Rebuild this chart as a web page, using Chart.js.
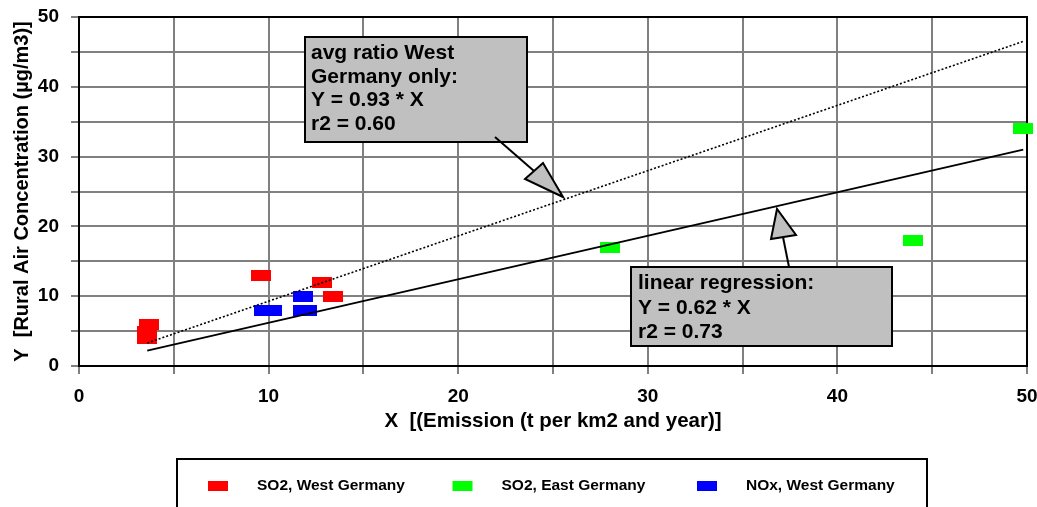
<!DOCTYPE html>
<html>
<head>
<meta charset="utf-8">
<script src="https://cdn.jsdelivr.net/npm/chart.js@4.4.1/dist/chart.umd.min.js"></script>
<style>
  html, body { margin: 0; padding: 0; background: #fff; }
  #wrap { width: 1037px; height: 507px; }
</style>
</head>
<body>
<div id="wrap"><canvas id="chart" width="1037" height="507"></canvas></div>
<script>
// SO2, West Germany
const so2WestX = [3.7, 3.6, 3.6, 9.6, 12.8, 13.4];
const so2WestY = [6, 5, 4, 13, 12, 10];

// SO2, East Germany
const so2EastX = [28.0, 44.0, 49.8];
const so2EastY = [17, 18, 34];

// NOx, West Germany
const noxWestX = [9.75, 10.2, 11.8, 11.8, 12.0];
const noxWestY = [8, 8, 10, 8, 8];

// fitted lines
const regressionX = [3.6, 49.8];
const regressionY = [2.2, 31.0];
const ratioX = [3.6, 49.8];
const ratioY = [3.3, 46.5];

const xTickLabels = ['0', '10', '20', '30', '40', '50'];
const yTickLabels = ['0', '10', '20', '30', '40', '50'];

const ratioNote = ['avg ratio West', 'Germany only:', 'Y = 0.93 * X', 'r2 = 0.60'];
const regressionNote = ['linear regression:', 'Y = 0.62 * X', 'r2 = 0.73'];

const FONT = '"Liberation Sans", Arial, Helvetica, sans-serif';

function toPoints(xs, ys) {
    return xs.map((x, i) => ({ x: x, y: ys[i] }));
}

// small flat rectangle used as marker
function marker(color) {
    const c = document.createElement('canvas');
    c.width = 20;
    c.height = 11;
    const g = c.getContext('2d');
    g.fillStyle = color;
    g.fillRect(0, 0, 20, 11);
    return c;
}

// top/right frame of the plot
const frame = {
    id: 'frame',
    beforeDatasetsDraw(chart) {
        const { ctx, chartArea: a } = chart;
        ctx.save();
        ctx.strokeStyle = '#000';
        ctx.lineWidth = 2;
        ctx.beginPath();
        ctx.moveTo(a.left, a.top);
        ctx.lineTo(a.right, a.top);
        ctx.lineTo(a.right, a.bottom);
        ctx.stroke();
        ctx.restore();
    }
};

function drawNote(ctx, box, lines, textX, lineYs, line, tri) {
    ctx.fillStyle = '#c0c0c0';
    ctx.fillRect(box[0], box[1], box[2], box[3]);
    ctx.strokeStyle = '#000';
    ctx.lineWidth = 2;
    ctx.strokeRect(box[0], box[1], box[2], box[3]);

    ctx.fillStyle = '#000';
    ctx.font = 'bold 21px ' + FONT;
    ctx.textBaseline = 'middle';
    ctx.textAlign = 'left';
    lines.forEach((t, i) => ctx.fillText(t, textX, lineYs[i]));

    ctx.lineWidth = 2;
    ctx.beginPath();
    ctx.moveTo(line[0], line[1]);
    ctx.lineTo(line[2], line[3]);
    ctx.stroke();

    ctx.beginPath();
    ctx.moveTo(tri[0], tri[1]);
    ctx.lineTo(tri[2], tri[3]);
    ctx.lineTo(tri[4], tri[5]);
    ctx.closePath();
    ctx.fillStyle = '#c0c0c0';
    ctx.fill();
    ctx.stroke();
}

const notes = {
    id: 'notes',
    afterDatasetsDraw(chart) {
        const ctx = chart.ctx;
        ctx.save();
        drawNote(ctx, [305, 37, 222, 105], ratioNote, 311, [53, 77, 100, 124],
            [495, 137, 534, 171], [563, 197, 525, 179, 543, 163]);
        drawNote(ctx, [631, 267, 261, 79], regressionNote, 638, [283, 308, 332],
            [783, 237, 789, 267], [777, 209, 771, 239, 796, 235]);
        ctx.restore();
    }
};

// boxed legend under the plot
const legendBox = {
    id: 'legendBox',
    afterDraw(chart) {
        const ctx = chart.ctx;
        ctx.save();
        ctx.strokeStyle = '#000';
        ctx.lineWidth = 2;
        ctx.strokeRect(177, 459, 750, 80);
        ctx.font = 'bold 15.5px ' + FONT;
        ctx.textBaseline = 'middle';
        ctx.textAlign = 'left';
        chart.data.datasets.slice(0, 3).forEach((ds, i) => {
            const x = 208 + i * 244.5;
            ctx.fillStyle = ds.backgroundColor;
            ctx.fillRect(x, 481, 20, 10);
            ctx.fillStyle = '#000';
            ctx.fillText(ds.label, x + 49, 486);
        });
        ctx.restore();
    }
};

new Chart(document.getElementById('chart'), {
    type: 'scatter',
    data: {
        datasets: [
            {
                label: 'SO2, West Germany',
                data: toPoints(so2WestX, so2WestY),
                backgroundColor: '#ff0000',
                pointStyle: marker('#ff0000'),
                clip: false,
                order: 1
            },
            {
                label: 'SO2, East Germany',
                data: toPoints(so2EastX, so2EastY),
                backgroundColor: '#00ff00',
                pointStyle: marker('#00ff00'),
                clip: false,
                order: 1
            },
            {
                label: 'NOx, West Germany',
                data: toPoints(noxWestX, noxWestY),
                backgroundColor: '#0000ff',
                pointStyle: marker('#0000ff'),
                clip: false,
                order: 1
            },
            {
                label: 'linear regression',
                data: toPoints(regressionX, regressionY),
                showLine: true,
                borderColor: '#000',
                borderWidth: 2,
                pointRadius: 0,
                order: 0
            },
            {
                label: 'avg ratio West Germany only',
                data: toPoints(ratioX, ratioY),
                showLine: true,
                borderColor: '#000',
                borderWidth: 1.6,
                borderDash: [2, 2],
                pointRadius: 0,
                order: 0
            }
        ]
    },
    options: {
        responsive: false,
        animation: false,
        layout: { padding: { left: 0, right: 10, top: 17, bottom: 0 } },
        plugins: {
            legend: { display: false },
            tooltip: { enabled: false }
        },
        scales: {
            x: {
                type: 'linear',
                min: 0,
                max: 50,
                afterFit: s => {
                    s.height = 141;
                    s.paddingLeft = 0;
                    s.paddingRight = 0;
                },
                grid: { color: '#808080', lineWidth: 2, tickLength: 8, tickColor: '#808080' },
                border: { color: '#000', width: 2 },
                ticks: {
                    stepSize: 5,
                    padding: 11,
                    color: '#000',
                    font: { family: FONT, size: 19, weight: 'bold' },
                    maxRotation: 0,
                    autoSkip: false,
                    callback: v => (v % 10 === 0 ? xTickLabels[v / 10] : '')
                },
                title: {
                    display: true,
                    text: 'X  [(Emission (t per km2 and year)]',
                    color: '#000',
                    font: { family: FONT, size: 20.5, weight: 'bold' },
                    padding: { top: 0, bottom: 73 }
                }
            },
            y: {
                type: 'linear',
                min: 0,
                max: 50,
                afterFit: s => {
                    s.width = 79;
                    s.paddingTop = 0;
                    s.paddingBottom = 0;
                },
                grid: { color: '#808080', lineWidth: 2, tickLength: 8, tickColor: '#808080' },
                border: { color: '#000', width: 2 },
                ticks: {
                    stepSize: 5,
                    padding: 12,
                    color: '#000',
                    font: { family: FONT, size: 19, weight: 'bold' },
                    autoSkip: false,
                    callback: v => (v % 10 === 0 ? yTickLabels[v / 10] : '')
                },
                title: {
                    display: true,
                    text: 'Y  [Rural Air Concentration (µg/m3)]',
                    color: '#000',
                    font: { family: FONT, size: 20, weight: 'bold' },
                    padding: { top: 10, bottom: 0 }
                }
            }
        }
    },
    plugins: [frame, notes, legendBox]
});
</script>
</body>
</html>
